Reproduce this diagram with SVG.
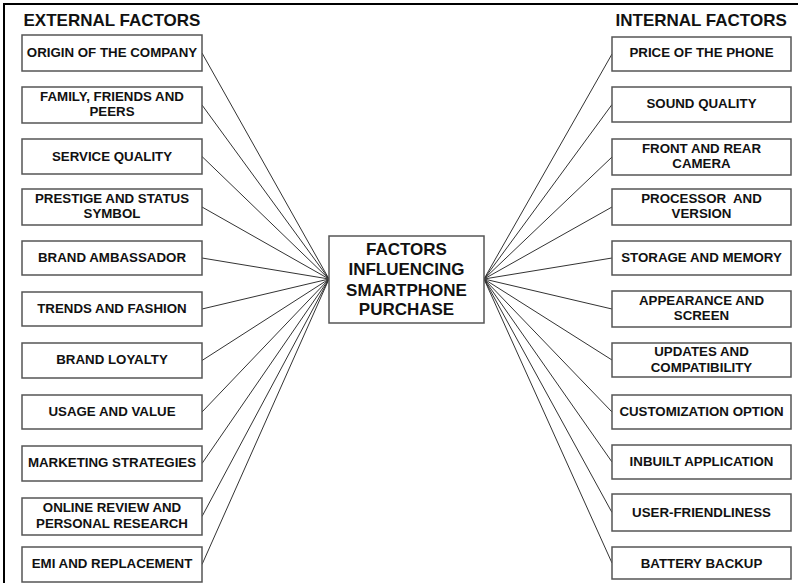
<svg xmlns="http://www.w3.org/2000/svg" width="798" height="583" viewBox="0 0 798 583">
<style>
.bg{fill:#fff}
.frame{stroke:#000;stroke-width:2;fill:none}
.box{fill:#fff;stroke:#555;stroke-width:1.5}
.lbl{font-family:"Liberation Sans",Arial,sans-serif;font-weight:bold;font-size:13.3px;fill:#111;text-anchor:middle}
.hdr{font-family:"Liberation Sans",Arial,sans-serif;font-weight:bold;font-size:17px;fill:#111}
.ctr{font-family:"Liberation Sans",Arial,sans-serif;font-weight:bold;font-size:17px;fill:#111;text-anchor:middle}
.pre{white-space:pre}
.conn line{stroke:#333;stroke-width:1}
</style>
<rect class="bg" x="0" y="0" width="798" height="583"/>
<path class="frame" d="M4,583 V4 H798"/>
<text class="hdr" x="23.5" y="26">EXTERNAL FACTORS</text>
<text class="hdr" x="615.5" y="26">INTERNAL FACTORS</text>

<g id="connectors" class="conn">
<line x1="202" y1="53" x2="329" y2="279"/>
<line x1="202" y1="105" x2="329" y2="279"/>
<line x1="202" y1="156.5" x2="329" y2="279"/>
<line x1="202" y1="207" x2="329" y2="279"/>
<line x1="202" y1="258" x2="329" y2="279"/>
<line x1="202" y1="309" x2="329" y2="279"/>
<line x1="202" y1="360.5" x2="329" y2="279"/>
<line x1="202" y1="412" x2="329" y2="279"/>
<line x1="202" y1="463.5" x2="329" y2="279"/>
<line x1="202" y1="516.5" x2="329" y2="279"/>
<line x1="202" y1="564.5" x2="329" y2="279"/>
<line x1="484" y1="279" x2="612" y2="54"/>
<line x1="484" y1="279" x2="612" y2="104.5"/>
<line x1="484" y1="279" x2="612" y2="157"/>
<line x1="484" y1="279" x2="612" y2="207"/>
<line x1="484" y1="279" x2="612" y2="258"/>
<line x1="484" y1="279" x2="612" y2="309"/>
<line x1="484" y1="279" x2="612" y2="360"/>
<line x1="484" y1="279" x2="612" y2="412"/>
<line x1="484" y1="279" x2="612" y2="462"/>
<line x1="484" y1="279" x2="612" y2="512.5"/>
<line x1="484" y1="279" x2="612" y2="563"/>
</g>

<g id="center">
<rect class="box" x="329" y="236" width="155" height="87"/>
<text class="ctr" x="406.5" y="255">FACTORS</text>
<text class="ctr" x="406.5" y="274.5">INFLUENCING</text>
<text class="ctr" x="406.5" y="295.5">SMARTPHONE</text>
<text class="ctr" x="406.5" y="315">PURCHASE</text>
</g>

<g id="ext-origin"><rect class="box" x="22" y="35" width="180" height="36"/><text class="lbl" x="112" y="56.7">ORIGIN OF THE COMPANY</text></g>
<g id="ext-family"><rect class="box" x="22" y="87" width="180" height="36"/><text class="lbl" x="112" y="100.5">FAMILY, FRIENDS AND</text><text class="lbl" x="112" y="116">PEERS</text></g>
<g id="ext-service"><rect class="box" x="22" y="139" width="180" height="35"/><text class="lbl" x="112" y="160.5">SERVICE QUALITY</text></g>
<g id="ext-prestige"><rect class="box" x="22" y="189" width="180" height="36"/><text class="lbl" x="112" y="202.5">PRESTIGE AND STATUS</text><text class="lbl" x="112" y="218">SYMBOL</text></g>
<g id="ext-ambassador"><rect class="box" x="22" y="241" width="180" height="34"/><text class="lbl" x="112" y="261.5">BRAND AMBASSADOR</text></g>
<g id="ext-trends"><rect class="box" x="22" y="292" width="180" height="34"/><text class="lbl" x="112" y="312.5">TRENDS AND FASHION</text></g>
<g id="ext-loyalty"><rect class="box" x="22" y="343" width="180" height="35"/><text class="lbl" x="112" y="364">BRAND LOYALTY</text></g>
<g id="ext-usage"><rect class="box" x="22" y="395" width="180" height="34"/><text class="lbl" x="112" y="415.5">USAGE AND VALUE</text></g>
<g id="ext-marketing"><rect class="box" x="22" y="446" width="180" height="35"/><text class="lbl" x="112" y="467">MARKETING STRATEGIES</text></g>
<g id="ext-online"><rect class="box" x="22" y="498" width="180" height="37"/><text class="lbl" x="112" y="512">ONLINE REVIEW AND</text><text class="lbl" x="112" y="528">PERSONAL RESEARCH</text></g>
<g id="ext-emi"><rect class="box" x="22" y="547" width="180" height="35"/><text class="lbl" x="112" y="568">EMI AND REPLACEMENT</text></g>

<g id="int-price"><rect class="box" x="612" y="37" width="179" height="34"/><text class="lbl" x="701.5" y="56.7">PRICE OF THE PHONE</text></g>
<g id="int-sound"><rect class="box" x="612" y="87" width="179" height="35"/><text class="lbl" x="701.5" y="108.3">SOUND QUALITY</text></g>
<g id="int-camera"><rect class="box" x="612" y="139" width="179" height="36"/><text class="lbl" x="701.5" y="152.7">FRONT AND REAR</text><text class="lbl" x="701.5" y="168">CAMERA</text></g>
<g id="int-processor"><rect class="box" x="612" y="189" width="179" height="36"/><text class="lbl pre" x="701.5" y="202.5">PROCESSOR  AND</text><text class="lbl" x="701.5" y="218">VERSION</text></g>
<g id="int-storage"><rect class="box" x="612" y="241" width="179" height="34"/><text class="lbl" x="701.5" y="261.5">STORAGE AND MEMORY</text></g>
<g id="int-appearance"><rect class="box" x="612" y="291" width="179" height="36"/><text class="lbl" x="701.5" y="304.5">APPEARANCE AND</text><text class="lbl" x="701.5" y="320">SCREEN</text></g>
<g id="int-updates"><rect class="box" x="612" y="343" width="179" height="34"/><text class="lbl" x="701.5" y="356">UPDATES AND</text><text class="lbl" x="701.5" y="371.5">COMPATIBILITY</text></g>
<g id="int-custom"><rect class="box" x="612" y="395" width="179" height="34"/><text class="lbl" x="701.5" y="415.5">CUSTOMIZATION OPTION</text></g>
<g id="int-inbuilt"><rect class="box" x="612" y="445" width="179" height="34"/><text class="lbl" x="701.5" y="465.5">INBUILT APPLICATION</text></g>
<g id="int-user"><rect class="box" x="612" y="494" width="179" height="37"/><text class="lbl" x="701.5" y="516.5">USER-FRIENDLINESS</text></g>
<g id="int-battery"><rect class="box" x="612" y="547" width="179" height="32"/><text class="lbl" x="701.5" y="567.5">BATTERY BACKUP</text></g>
</svg>
